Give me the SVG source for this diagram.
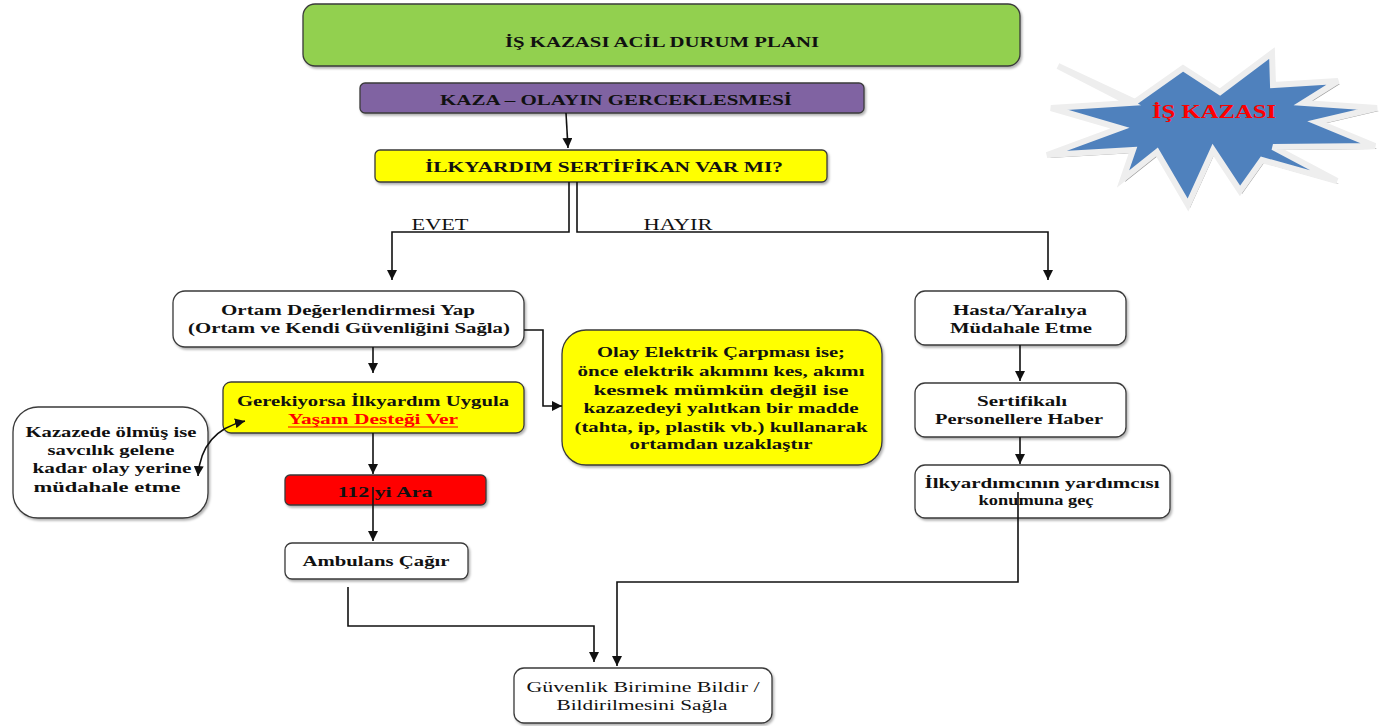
<svg xmlns="http://www.w3.org/2000/svg" width="1381" height="726" viewBox="0 0 1381 726">
<style>
.box{stroke:#3a3a3a;stroke-width:1.3;filter:url(#sh)}
.t{font-family:"Liberation Serif","Times New Roman",serif;font-weight:bold;font-size:15px;fill:#111;text-anchor:middle}
.n{font-weight:normal}
.lbl{font-size:16px}
.star{font-size:19px;fill:#FF0000}
.c{fill:none;stroke:#111;stroke-width:1.6}
</style>
<defs>
<filter id="sh" x="-5%" y="-5%" width="110%" height="120%">
<feDropShadow dx="1.5" dy="2" stdDeviation="1.2" flood-color="#000" flood-opacity="0.3"/>
</filter>
<marker id="ah" viewBox="0 0 10 10" refX="10" refY="5" markerWidth="10" markerHeight="10" markerUnits="userSpaceOnUse" orient="auto-start-reverse">
<path d="M0,0 L10,5 L0,10 z" fill="#111"/>
</marker>
</defs>
<rect width="1381" height="726" fill="#fff"/>

<g id="title">
<rect class="box" x="303" y="4" width="717" height="62" rx="12" fill="#92D050"/>
<text class="t" x="662" y="47" textLength="314" lengthAdjust="spacingAndGlyphs">İŞ KAZASI ACİL DURUM PLANI</text>
</g>

<g id="kaza">
<rect class="box" x="360" y="83" width="504" height="30" rx="5" fill="#8064A2"/>
<text class="t" x="616" y="105" textLength="352" lengthAdjust="spacingAndGlyphs">KAZA – OLAYIN GERCEKLESMESİ</text>
</g>

<g id="soru">
<rect class="box" x="375" y="150" width="452" height="32" rx="5" fill="#FFFF00"/>
<text class="t" x="604" y="172" textLength="358" lengthAdjust="spacingAndGlyphs">İLKYARDIM SERTİFİKAN VAR MI?</text>
</g>

<g id="star">
<polygon points="1058,66 1135,102 1183,68 1220,92 1272,53 1273,85 1338,81 1303,103 1377,108 1317,122 1375,146 1273,147 1337,181 1262,160 1240,191 1213,150 1188,205 1157,152 1123,179 1133,150 1047,155 1120,128 1051,108 1130,103" fill="#9a9a9a" transform="translate(2,3)"/>
<polygon points="1058,66 1135,102 1183,68 1220,92 1272,53 1273,85 1338,81 1303,103 1377,108 1317,122 1375,146 1273,147 1337,181 1262,160 1240,191 1213,150 1188,205 1157,152 1123,179 1133,150 1047,155 1120,128 1051,108 1130,103" fill="#4F81BD" stroke="#eeeeee" stroke-width="6" stroke-linejoin="miter"/>
<text class="t star" x="1214" y="118" textLength="124" lengthAdjust="spacingAndGlyphs">İŞ KAZASI</text>
</g>

<g id="ortam">
<rect class="box" x="173" y="291" width="351" height="56" rx="12" fill="#fff"/>
<text class="t" x="348" y="315" textLength="254" lengthAdjust="spacingAndGlyphs">Ortam Değerlendirmesi Yap</text>
<text class="t" x="349" y="333" textLength="322" lengthAdjust="spacingAndGlyphs">(Ortam ve Kendi Güvenliğini Sağla)</text>
</g>

<g id="gerekiyorsa">
<rect class="box" x="223" y="382" width="301" height="51" rx="8" fill="#FFFF00"/>
<text class="t" x="373" y="406" textLength="272" lengthAdjust="spacingAndGlyphs">Gerekiyorsa İlkyardım Uygula</text>
<text class="t" x="373" y="424" textLength="170" lengthAdjust="spacingAndGlyphs" style="fill:#FF0000">Yaşam Desteği Ver</text>
<line x1="288" y1="427" x2="458" y2="427" stroke="#FF0000" stroke-width="1.2"/>
</g>

<g id="elektrik">
<rect class="box" x="562" y="330" width="320" height="135" rx="24" fill="#FFFF00"/>
<text class="t" x="721" y="357" textLength="248" lengthAdjust="spacingAndGlyphs">Olay Elektrik Çarpması ise;</text>
<text class="t" x="721" y="376" textLength="287" lengthAdjust="spacingAndGlyphs">önce elektrik akımını kes, akımı</text>
<text class="t" x="721" y="395" textLength="255" lengthAdjust="spacingAndGlyphs">kesmek mümkün değil ise</text>
<text class="t" x="721" y="413" textLength="275" lengthAdjust="spacingAndGlyphs">kazazedeyi yalıtkan bir madde</text>
<text class="t" x="721" y="432" textLength="293" lengthAdjust="spacingAndGlyphs">(tahta, ip, plastik vb.) kullanarak</text>
<text class="t" x="721" y="449" textLength="183" lengthAdjust="spacingAndGlyphs">ortamdan uzaklaştır</text>
</g>

<g id="kazazede">
<rect class="box" x="13" y="407" width="195" height="111" rx="25" fill="#fff"/>
<text class="t" x="111" y="437" textLength="171" lengthAdjust="spacingAndGlyphs">Kazazede ölmüş ise</text>
<text class="t" x="111" y="455" textLength="127" lengthAdjust="spacingAndGlyphs">savcılık gelene</text>
<text class="t" x="112" y="473" textLength="159" lengthAdjust="spacingAndGlyphs">kadar olay yerine</text>
<text class="t" x="107" y="492" textLength="147" lengthAdjust="spacingAndGlyphs">müdahale etme</text>
</g>

<g id="ara112">
<rect class="box" x="285" y="475" width="201" height="30" rx="5" fill="#FF0000"/>
<text class="t" x="385" y="497" textLength="95" lengthAdjust="spacingAndGlyphs">112 yi Ara</text>
</g>

<g id="ambulans">
<rect class="box" x="285" y="543" width="183" height="36" rx="7" fill="#fff"/>
<text class="t" x="376" y="566" textLength="147" lengthAdjust="spacingAndGlyphs">Ambulans Çağır</text>
</g>

<g id="hasta">
<rect class="box" x="915" y="291" width="211" height="54" rx="10" fill="#fff"/>
<text class="t" x="1020" y="315" textLength="134" lengthAdjust="spacingAndGlyphs">Hasta/Yaralıya</text>
<text class="t" x="1021" y="333" textLength="142" lengthAdjust="spacingAndGlyphs">Müdahale Etme</text>
</g>

<g id="sertifikali">
<rect class="box" x="915" y="383" width="211" height="54" rx="10" fill="#fff"/>
<text class="t" x="1022" y="406" textLength="90" lengthAdjust="spacingAndGlyphs">Sertifikalı</text>
<text class="t" x="1019" y="424" textLength="168" lengthAdjust="spacingAndGlyphs">Personellere Haber</text>
</g>

<g id="ilkyardimci">
<rect class="box" x="915" y="465" width="255" height="53" rx="10" fill="#fff"/>
<text class="t" x="1042" y="488" textLength="235" lengthAdjust="spacingAndGlyphs">İlkyardımcının yardımcısı</text>
<text class="t" x="1036" y="505" textLength="115" lengthAdjust="spacingAndGlyphs">konumuna geç</text>
</g>

<g id="guvenlik">
<rect class="box" x="514" y="668" width="258" height="55" rx="10" fill="#fff"/>
<text class="t n" x="643" y="692" textLength="233" lengthAdjust="spacingAndGlyphs">Güvenlik Birimine Bildir /</text>
<text class="t n" x="642" y="710" textLength="171" lengthAdjust="spacingAndGlyphs">Bildirilmesini Sağla</text>
</g>

<g id="connectors">
<path class="c" d="M566,113 L568,148" marker-end="url(#ah)"/>
<path class="c" d="M569,182 L569,232 L392,232 L392,280" marker-end="url(#ah)"/>
<path class="c" d="M577,182 L577,232 L1048,232 L1048,280" marker-end="url(#ah)"/>
<path class="c" d="M373,347 L373,373" marker-end="url(#ah)"/>
<path class="c" d="M524,330 L543,330 L543,406 L562,406" marker-end="url(#ah)"/>
<path class="c" d="M373,433 L373,474" marker-end="url(#ah)"/>
<path class="c" d="M373,487 L373,541" marker-end="url(#ah)"/>
<path class="c" d="M348,587 L348,626 L594,626 L594,662" marker-end="url(#ah)"/>
<path class="c" d="M1018,492 L1018,582 L617,582 L617,666" marker-end="url(#ah)"/>
<path class="c" d="M1020,345 L1020,381" marker-end="url(#ah)"/>
<path class="c" d="M1020,437 L1020,464" marker-end="url(#ah)"/>
<path class="c" d="M245,421 C215,428 200,448 198,476" marker-start="url(#ah)" marker-end="url(#ah)"/>
<text class="t n lbl" x="440" y="230" textLength="57" lengthAdjust="spacingAndGlyphs">EVET</text>
<text class="t n lbl" x="678" y="230" textLength="69" lengthAdjust="spacingAndGlyphs">HAYIR</text>
</g>
</svg>
